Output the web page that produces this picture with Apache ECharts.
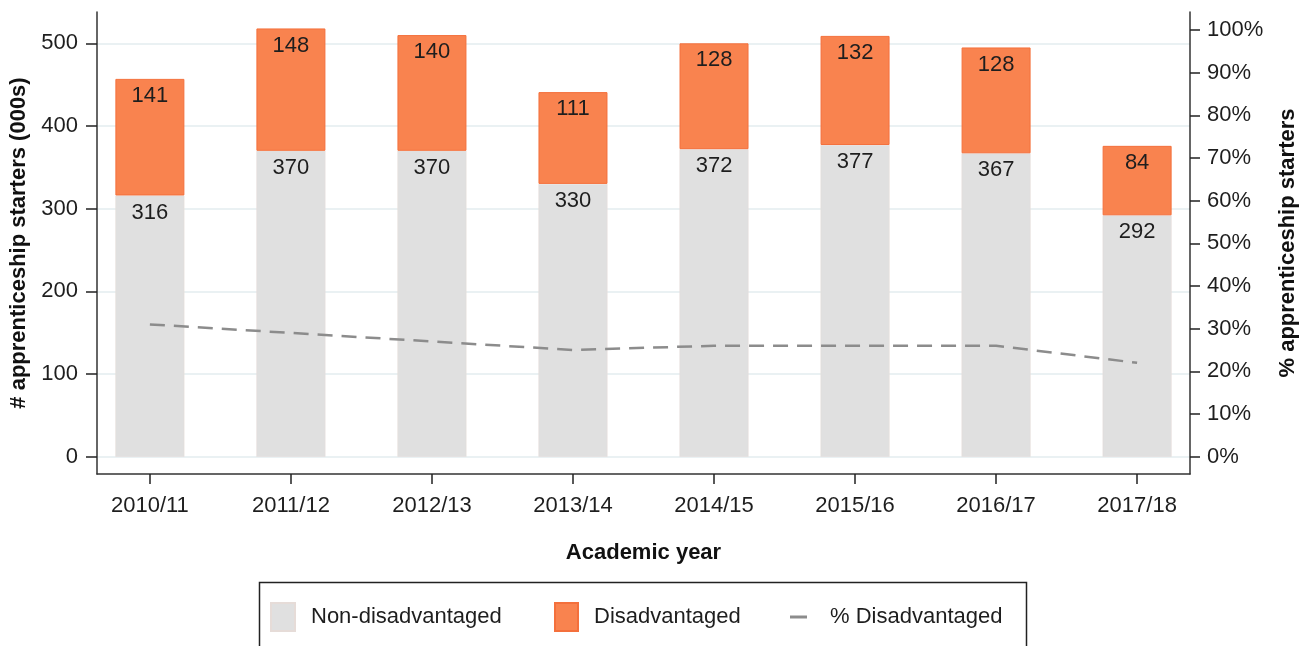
<!DOCTYPE html>
<html>
<head>
<meta charset="utf-8">
<script src="https://cdn.jsdelivr.net/npm/echarts@6/dist/echarts.min.js"></script>
<style>
  html, body { margin: 0; padding: 0; background: #fff; }
  #chart { width: 1310px; height: 646px; }
</style>
</head>
<body>
<div id="chart"></div>
<script>
const categories = ['2010/11', '2011/12', '2012/13', '2013/14', '2014/15', '2015/16', '2016/17', '2017/18'];
const nonDisadvantaged = [316, 370, 370, 330, 372, 377, 367, 292];
const disadvantaged = [141, 148, 140, 111, 128, 132, 128, 84];
const pctDisadvantaged = [31, 29, 27, 25, 26, 26, 26, 22];
const leftTicks = [0, 100, 200, 300, 400, 500];
const rightTicks = [0, 10, 20, 30, 40, 50, 60, 70, 80, 90, 100];

const FONT = 'Liberation Sans';
const catIdx = categories.map((c, i) => i);

const chart = echarts.init(document.getElementById('chart'), null, { renderer: 'canvas' });

// value first (stacked dimension), category index second
const labelStyle = {
  show: true,
  position: 'insideTop',
  distance: 6,
  fontSize: 22,
  lineHeight: 22,
  fontFamily: FONT,
  color: '#1e1e1e',
  formatter: p => p.value[0]
};

chart.setOption({
  animation: false,
  backgroundColor: '#ffffff',
  textStyle: { fontFamily: FONT },
  grid: { left: 97, right: 120, top: 12, bottom: 172, containLabel: false },
  xAxis: {
    type: 'value',
    min: -0.375,
    max: 7.375,
    name: 'Academic year',
    nameLocation: 'middle',
    nameGap: 68,
    nameTextStyle: { fontSize: 22, fontWeight: 'bold', color: '#111', fontFamily: FONT },
    axisLine: { onZero: false, lineStyle: { color: '#333', width: 1.5 } },
    axisTick: { show: true, length: 10, customValues: catIdx, lineStyle: { color: '#222', width: 1.5 } },
    axisLabel: {
      customValues: catIdx,
      formatter: v => categories[Math.round(v)],
      fontSize: 22, color: '#1e1e1e', fontFamily: FONT, margin: 21
    },
    splitLine: { show: false }
  },
  yAxis: [
    {
      type: 'value',
      position: 'left',
      min: -20.9,
      max: 537.9,
      name: '# apprenticeship starters (000s)',
      nameLocation: 'middle',
      nameGap: 65,
      nameTextStyle: { fontSize: 22, fontWeight: 'bold', color: '#111', fontFamily: FONT },
      axisLine: { show: true, onZero: false, lineStyle: { color: '#333', width: 1.5 } },
      axisTick: { show: true, length: 11, customValues: leftTicks, lineStyle: { color: '#222', width: 1.5 } },
      axisLabel: { customValues: leftTicks, fontSize: 22, color: '#1e1e1e', fontFamily: FONT, margin: 19 },
      splitLine: { show: true, lineStyle: { color: '#eaf1f3', width: 2 } }
    },
    {
      type: 'value',
      position: 'right',
      min: -4.05,
      max: 104.2,
      name: '% apprenticeship starters',
      nameLocation: 'middle',
      nameGap: 87,
      nameTextStyle: { fontSize: 22, fontWeight: 'bold', color: '#111', fontFamily: FONT },
      axisLine: { show: true, onZero: false, lineStyle: { color: '#333', width: 1.5 } },
      axisTick: { show: true, length: 10, customValues: rightTicks, lineStyle: { color: '#222', width: 1.5 } },
      axisLabel: { customValues: rightTicks, formatter: v => v + '%', fontSize: 22, color: '#1e1e1e', fontFamily: FONT, margin: 17 },
      splitLine: { show: false }
    }
  ],
  legend: [
    {
      left: 270, top: 602, padding: 0,
      itemWidth: 24, itemHeight: 28,
      data: [{ name: 'Non-disadvantaged', icon: 'rect' }],
      textStyle: { fontSize: 22, lineHeight: 28, color: '#1e1e1e', fontFamily: FONT, padding: [0, 0, 0, 11] }
    },
    {
      left: 554, top: 602, padding: 0,
      itemWidth: 23, itemHeight: 28,
      data: [{ name: 'Disadvantaged', icon: 'rect' }],
      textStyle: { fontSize: 22, lineHeight: 28, color: '#1e1e1e', fontFamily: FONT, padding: [0, 0, 0, 11] }
    },
    {
      left: 790, top: 603, padding: 0,
      itemWidth: 17, itemHeight: 3,
      data: [{ name: '% Disadvantaged', icon: 'rect', itemStyle: { color: '#8c8c8c', borderWidth: 0 } }],
      textStyle: { fontSize: 22, lineHeight: 28, color: '#1e1e1e', fontFamily: FONT, padding: [0, 0, 0, 18] }
    }
  ],
  graphic: [
    {
      type: 'rect',
      shape: { x: 259.5, y: 582.5, width: 767, height: 120 },
      style: { fill: 'none', stroke: '#222', lineWidth: 1.5 },
      silent: true
    }
  ],
  series: [
    {
      name: 'Non-disadvantaged',
      type: 'bar',
      stack: 'total',
      barWidth: 69,
      encode: { x: 1, y: 0 },
      data: nonDisadvantaged.map((v, i) => [v, i]),
      itemStyle: { color: '#e0e0e0', borderColor: '#e6dcd8', borderWidth: 0.5 },
      label: Object.assign({}, labelStyle, { distance: 6 })
    },
    {
      name: 'Disadvantaged',
      type: 'bar',
      stack: 'total',
      barWidth: 69,
      encode: { x: 1, y: 0 },
      data: disadvantaged.map((v, i) => [v, i]),
      itemStyle: { color: '#f9834f', borderColor: '#f4703c', borderWidth: 1 },
      label: Object.assign({}, labelStyle, { distance: 6 })
    },
    {
      name: '% Disadvantaged',
      type: 'line',
      yAxisIndex: 1,
      symbol: 'none',
      data: pctDisadvantaged.map((v, i) => [i, v]),
      itemStyle: { color: '#8c8c8c' },
      lineStyle: { color: '#8c8c8c', width: 2.5, type: [15, 9] },
      z: 5
    }
  ]
});
</script>
</body>
</html>
